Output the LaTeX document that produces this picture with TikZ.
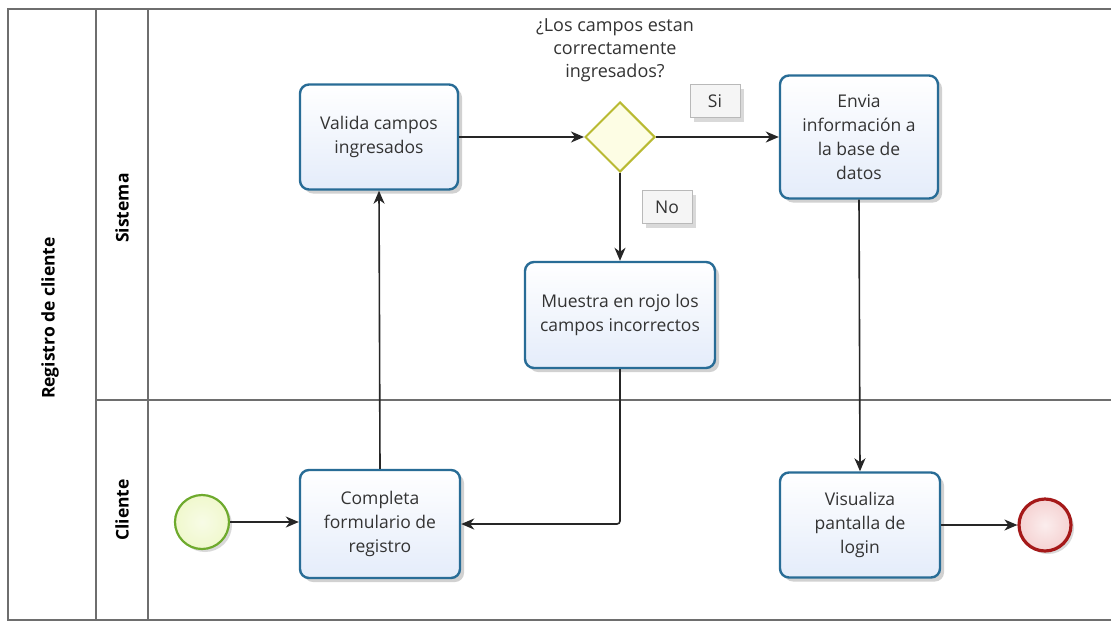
\documentclass[tikz,border=0pt]{standalone}
\usepackage{fontspec}
\setmainfont{Open Sans}
\usetikzlibrary{shapes.geometric,arrows.meta,shadows}
\definecolor{taskline}{RGB}{40,108,150}
\definecolor{taskfill}{RGB}{228,236,250}
\definecolor{gateline}{RGB}{185,186,50}
\definecolor{gatefill}{RGB}{253,253,228}
\definecolor{startline}{RGB}{110,170,45}
\definecolor{startfill}{RGB}{240,248,205}
\definecolor{endline}{RGB}{165,25,25}
\definecolor{endfill}{RGB}{245,210,210}
\definecolor{laneline}{RGB}{110,110,110}
\tikzset{
  txt/.style={font=\fontsize{17.5}{24}\selectfont, text=black!80},
  task/.style={txt, rectangle, rounded corners=9pt, draw=taskline, line width=2.4pt,
    top color=white, bottom color=taskfill, align=center, inner sep=0pt,
    drop shadow={shadow xshift=4pt, shadow yshift=-4pt, opacity=0.18, fill=black}},
  gate/.style={diamond, draw=gateline, line width=2pt, fill=gatefill,
    minimum width=70pt, minimum height=70pt, inner sep=0pt},
  startev/.style={circle, draw=startline, line width=2.2pt, inner color=startfill!50, outer color=startfill,
    minimum size=54pt, inner sep=0pt,
    drop shadow={shadow xshift=3pt, shadow yshift=-3pt, opacity=0.15, fill=black}},
  endev/.style={circle, draw=endline, line width=3.2pt, inner color=endfill!40, outer color=endfill,
    minimum size=52pt, inner sep=0pt,
    drop shadow={shadow xshift=3pt, shadow yshift=-3pt, opacity=0.15, fill=black}},
  flag/.style={txt, draw=gray!55, fill=gray!8, line width=0.8pt, minimum width=50pt,
    minimum height=33pt, inner sep=0pt,
    drop shadow={shadow xshift=4pt, shadow yshift=-4pt, opacity=0.15, fill=black}},
  flow/.style={draw=black!85, line width=1.6pt, -{Stealth[length=13pt,width=11pt,inset=4pt]}},
  lane/.style={draw=laneline, line width=1.6pt},
  lanetitle/.style={font=\fontsize{17.5}{20}\selectfont\bfseries, rotate=90}
}
\begin{document}
\begin{tikzpicture}[x=1pt,y=-1pt]
\useasboundingbox (0,0) rectangle (1111,622);
\fill[white] (0,0) rectangle (1111,622);

% pool and lanes
\draw[lane] (1111,9) -- (8,9) -- (8,620) -- (1111,620);
\draw[lane] (96,9) -- (96,620);
\draw[lane] (148,9) -- (148,620);
\draw[lane] (96,400) -- (1111,400);
\node[lanetitle] (pool) at (50,318) {Registro de cliente};
\node[lanetitle] (sis) at (122,208) {Sistema};
\node[lanetitle] (cli) at (122,510) {Cliente};

% activities
\node[task, minimum width=158pt, minimum height=105pt] (val) at (379,137) {Valida campos\\ingresados};
\node[task, minimum width=158pt, minimum height=123pt] (env) at (859,137) {Envia\\información a\\la base de\\datos};
\node[task, minimum width=190pt, minimum height=106pt] (mue) at (620,315) {Muestra en rojo los\\campos incorrectos};
\node[task, minimum width=160pt, minimum height=108pt] (com) at (380,524) {Completa\\formulario de\\registro};
\node[task, minimum width=160pt, minimum height=105pt] (vis) at (860,525) {Visualiza\\pantalla de\\login};

% gateway and events
\node[gate] (gw) at (620,137) {};
\node[txt, align=center, font=\fontsize{18}{23}\selectfont] (q) at (615,50) {¿Los campos estan\\correctamente\\ingresados?};
\node[startev] (ini) at (202,522) {};
\node[endev] (fin) at (1045,525) {};

% condition labels
\node[flag] (si) at (715,101) {Si};
\node[flag] (no) at (667,207) {No};

% sequence flows
\draw[flow] (ini) -- (com.west |- ini);
\draw[flow] (com.north) -- (val.south);
\draw[flow] (val.east) -- (gw.west);
\draw[flow] (gw.east) -- (env.west);
\draw[flow] (gw.south) -- (mue.north);
\draw[flow, rounded corners=3pt] (mue.south) |- (com.east);
\draw[flow] (env.south) -- (vis.north);
\draw[flow] (vis.east) -- (fin.west);
\end{tikzpicture}
\end{document}
